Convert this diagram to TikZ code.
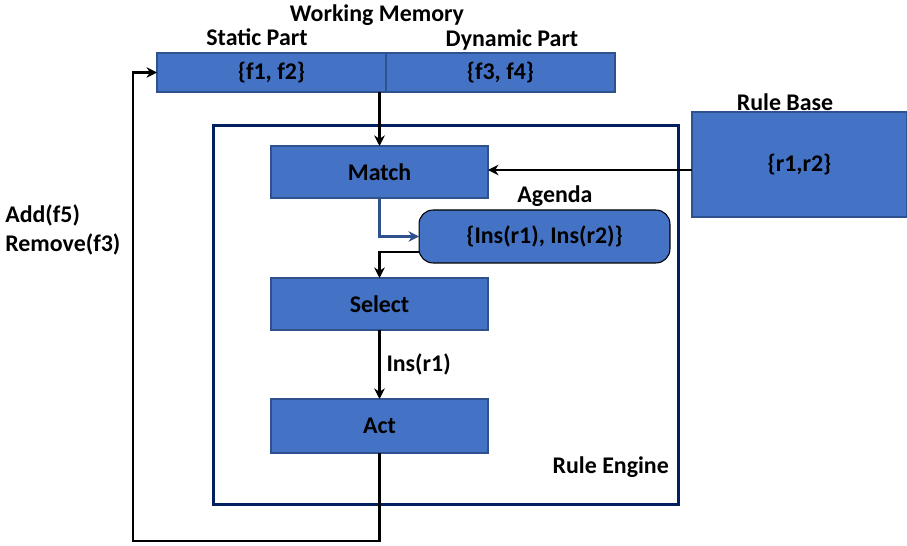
\documentclass[tikz,border=0pt]{standalone}
\usepackage{fontspec}
\setmainfont{Carlito}
\usetikzlibrary{arrows.meta}
\definecolor{boxblue}{HTML}{4472C4}
\definecolor{boxedge}{HTML}{2F528F}
\definecolor{enginenavy}{HTML}{002060}

\begin{document}
\begin{tikzpicture}[
        x=0.02cm, y=-0.02cm, font=\fontsize{13.6}{16}\selectfont\bfseries,
        MyBox/.style={draw=boxedge, fill=boxblue, line width=0.6pt, outer sep=0pt, minimum width=4.34cm, minimum height=1.04cm},
        MyArrow/.style={line width=1.3pt, -{Stealth[length=6pt, width=6pt]}},
        ]
    \useasboundingbox (0,0) rectangle (907,546);
    % working memory
    \node [MyBox, minimum width=4.58cm, minimum height=0.78cm] (static) at (271.5,72.5) {\{f1, f2\}};
    \node [MyBox, minimum width=4.58cm, minimum height=0.78cm] (dynamic) at (500.5,72.5) {\{f3, f4\}};
    \node (wm) at (377,15) {Working Memory};
    \node (staticlabel) at (257,37) {Static Part};
    \node (dynamiclabel) at (512,40) {Dynamic Part};
    % rule engine
    \node [draw=enginenavy, line width=1.7pt, minimum width=9.32cm, minimum height=7.6cm] (engine) at (446,315) {};
    \node [anchor=east] (enginelabel) at (675,467) {Rule Engine};
    \node [MyBox] (match) at (379.5,172) {Match};
    \node [MyBox] (select) at (379.5,304) {Select};
    \node [MyBox, minimum height=1.08cm] (act) at (379.5,426) {Act};
    \node [MyBox, draw=black, minimum width=5.02cm, minimum height=1.06cm, rounded corners=8pt] (agenda) at (544.5,236.5) {\{Ins(r1), Ins(r2)\}};
    \node (agendalabel) at (555,196) {Agenda};
    % rule base
    \node [MyBox, minimum width=4.3cm, minimum height=2.1cm] (rulebase) at (799.5,164.5) {\{r1,r2\}};
    \node (rulebaselabel) at (785,102) {Rule Base};
    \node [anchor=west, align=left, inner sep=0pt] (changes) at (5,230) {Add(f5)\\Remove(f3)};
    \coordinate (loop) at (133,541);

    \draw [MyArrow] (match.north |- static.south) -- (match.north);
    \draw [MyArrow] (rulebase.west |- 0,170) -- (match.east |- 0,170);
    \draw [MyArrow, boxedge] (match.south) |- (agenda.west);
    \draw [MyArrow] ([yshift=-0.31cm]agenda.west) -| (select.north);
    \draw [MyArrow] (select.south) -- (act.north) node [midway, right] {Ins(r1)};
    \draw [MyArrow] (act.south) |- (loop) |- (static.west);
\end{tikzpicture}
\end{document}
